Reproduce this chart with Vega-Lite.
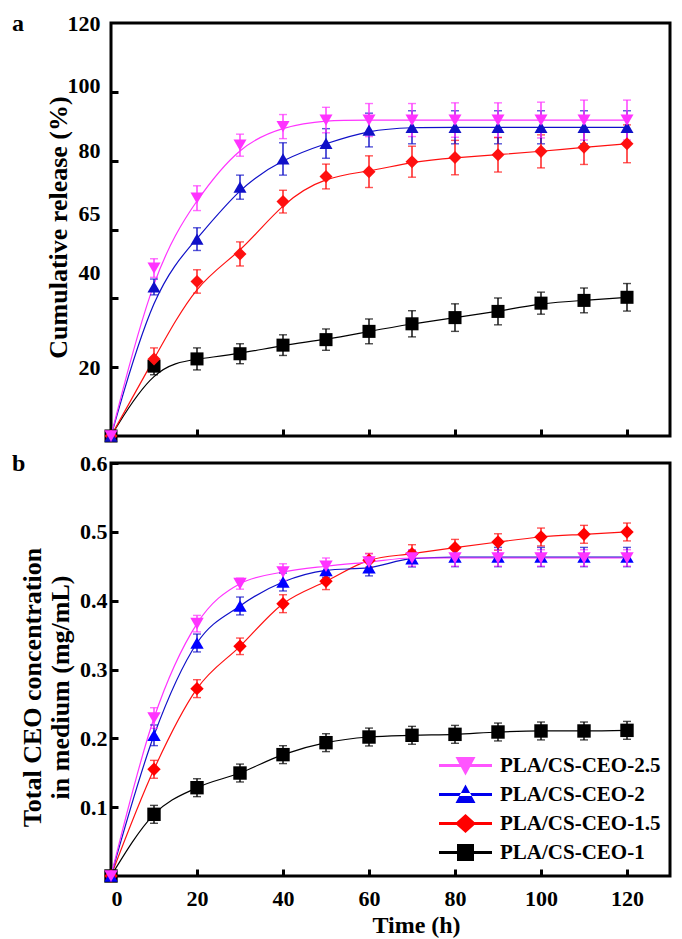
{
  "$schema": "https://vega.github.io/schema/vega-lite/v6.json",
  "background": "white",
  "padding": {"left": 10, "top": 10, "right": 5, "bottom": 1},
  "spacing": 5,
  "config": {
    "font": "Liberation Serif",
    "view": {"stroke": "black", "strokeWidth": 3},
    "axis": {
      "grid": false, "domain": false,
      "tickColor": "black", "tickWidth": 3, "tickSize": 7,
      "labelFont": "Liberation Serif", "labelFontWeight": "bold", "labelFontSize": 22, "labelColor": "black",
      "titleFont": "Liberation Serif", "titleFontWeight": "bold", "titleFontSize": 26, "titleColor": "black"
    }
  },
  "datasets": {
    "release": [
      {"s": "PLA/CS-CEO-1", "t": 0, "v": 0, "e": 0},
      {"s": "PLA/CS-CEO-1", "t": 10, "v": 20.3, "e": 2.5},
      {"s": "PLA/CS-CEO-1", "t": 20, "v": 22.4, "e": 3.2},
      {"s": "PLA/CS-CEO-1", "t": 30, "v": 23.9, "e": 2.9},
      {"s": "PLA/CS-CEO-1", "t": 40, "v": 26.4, "e": 3.0},
      {"s": "PLA/CS-CEO-1", "t": 50, "v": 28.0, "e": 3.1},
      {"s": "PLA/CS-CEO-1", "t": 60, "v": 30.4, "e": 3.6},
      {"s": "PLA/CS-CEO-1", "t": 70, "v": 32.6, "e": 3.8},
      {"s": "PLA/CS-CEO-1", "t": 80, "v": 34.4, "e": 4.0},
      {"s": "PLA/CS-CEO-1", "t": 90, "v": 36.2, "e": 3.9},
      {"s": "PLA/CS-CEO-1", "t": 100, "v": 38.6, "e": 3.2},
      {"s": "PLA/CS-CEO-1", "t": 110, "v": 39.4, "e": 3.6},
      {"s": "PLA/CS-CEO-1", "t": 120, "v": 40.3, "e": 4.0},
      {"s": "PLA/CS-CEO-1.5", "t": 0, "v": 0, "e": 0},
      {"s": "PLA/CS-CEO-1.5", "t": 10, "v": 22.4, "e": 3.2},
      {"s": "PLA/CS-CEO-1.5", "t": 20, "v": 44.9, "e": 3.4},
      {"s": "PLA/CS-CEO-1.5", "t": 30, "v": 52.9, "e": 3.5},
      {"s": "PLA/CS-CEO-1.5", "t": 40, "v": 68.1, "e": 3.3},
      {"s": "PLA/CS-CEO-1.5", "t": 50, "v": 75.4, "e": 3.6},
      {"s": "PLA/CS-CEO-1.5", "t": 60, "v": 76.8, "e": 4.6},
      {"s": "PLA/CS-CEO-1.5", "t": 70, "v": 79.7, "e": 4.5},
      {"s": "PLA/CS-CEO-1.5", "t": 80, "v": 80.9, "e": 5.0},
      {"s": "PLA/CS-CEO-1.5", "t": 90, "v": 81.7, "e": 5.0},
      {"s": "PLA/CS-CEO-1.5", "t": 100, "v": 82.7, "e": 4.8},
      {"s": "PLA/CS-CEO-1.5", "t": 110, "v": 83.9, "e": 5.0},
      {"s": "PLA/CS-CEO-1.5", "t": 120, "v": 84.9, "e": 5.5},
      {"s": "PLA/CS-CEO-2", "t": 0, "v": 0, "e": 0},
      {"s": "PLA/CS-CEO-2", "t": 10, "v": 43.3, "e": 2.3},
      {"s": "PLA/CS-CEO-2", "t": 20, "v": 57.2, "e": 3.3},
      {"s": "PLA/CS-CEO-2", "t": 30, "v": 72.3, "e": 3.5},
      {"s": "PLA/CS-CEO-2", "t": 40, "v": 80.5, "e": 4.7},
      {"s": "PLA/CS-CEO-2", "t": 50, "v": 85.0, "e": 4.3},
      {"s": "PLA/CS-CEO-2", "t": 60, "v": 88.9, "e": 4.9},
      {"s": "PLA/CS-CEO-2", "t": 70, "v": 89.7, "e": 4.8},
      {"s": "PLA/CS-CEO-2", "t": 80, "v": 89.7, "e": 4.8},
      {"s": "PLA/CS-CEO-2", "t": 90, "v": 89.7, "e": 4.8},
      {"s": "PLA/CS-CEO-2", "t": 100, "v": 89.7, "e": 4.8},
      {"s": "PLA/CS-CEO-2", "t": 110, "v": 89.7, "e": 4.8},
      {"s": "PLA/CS-CEO-2", "t": 120, "v": 89.7, "e": 4.8},
      {"s": "PLA/CS-CEO-2.5", "t": 0, "v": 0, "e": 0},
      {"s": "PLA/CS-CEO-2.5", "t": 10, "v": 48.8, "e": 2.7},
      {"s": "PLA/CS-CEO-2.5", "t": 20, "v": 69.1, "e": 3.6},
      {"s": "PLA/CS-CEO-2.5", "t": 30, "v": 84.5, "e": 3.2},
      {"s": "PLA/CS-CEO-2.5", "t": 40, "v": 89.9, "e": 3.5},
      {"s": "PLA/CS-CEO-2.5", "t": 50, "v": 91.8, "e": 3.7},
      {"s": "PLA/CS-CEO-2.5", "t": 60, "v": 91.8, "e": 4.8},
      {"s": "PLA/CS-CEO-2.5", "t": 70, "v": 91.8, "e": 4.8},
      {"s": "PLA/CS-CEO-2.5", "t": 80, "v": 91.8, "e": 5.0},
      {"s": "PLA/CS-CEO-2.5", "t": 90, "v": 91.8, "e": 5.0},
      {"s": "PLA/CS-CEO-2.5", "t": 100, "v": 91.8, "e": 5.2},
      {"s": "PLA/CS-CEO-2.5", "t": 110, "v": 91.8, "e": 5.8},
      {"s": "PLA/CS-CEO-2.5", "t": 120, "v": 91.8, "e": 5.8}
    ],
    "conc": [
      {"s": "PLA/CS-CEO-1", "t": 0, "v": 0, "e": 0},
      {"s": "PLA/CS-CEO-1", "t": 10, "v": 0.0896, "e": 0.013},
      {"s": "PLA/CS-CEO-1", "t": 20, "v": 0.1283, "e": 0.013},
      {"s": "PLA/CS-CEO-1", "t": 30, "v": 0.1496, "e": 0.013},
      {"s": "PLA/CS-CEO-1", "t": 40, "v": 0.1763, "e": 0.013},
      {"s": "PLA/CS-CEO-1", "t": 50, "v": 0.1937, "e": 0.013},
      {"s": "PLA/CS-CEO-1", "t": 60, "v": 0.2019, "e": 0.013},
      {"s": "PLA/CS-CEO-1", "t": 70, "v": 0.2044, "e": 0.013},
      {"s": "PLA/CS-CEO-1", "t": 80, "v": 0.2058, "e": 0.013},
      {"s": "PLA/CS-CEO-1", "t": 90, "v": 0.2092, "e": 0.013},
      {"s": "PLA/CS-CEO-1", "t": 100, "v": 0.2107, "e": 0.013},
      {"s": "PLA/CS-CEO-1", "t": 110, "v": 0.2107, "e": 0.013},
      {"s": "PLA/CS-CEO-1", "t": 120, "v": 0.2116, "e": 0.013},
      {"s": "PLA/CS-CEO-1.5", "t": 0, "v": 0, "e": 0},
      {"s": "PLA/CS-CEO-1.5", "t": 10, "v": 0.155, "e": 0.013},
      {"s": "PLA/CS-CEO-1.5", "t": 20, "v": 0.2722, "e": 0.013},
      {"s": "PLA/CS-CEO-1.5", "t": 30, "v": 0.3337, "e": 0.012},
      {"s": "PLA/CS-CEO-1.5", "t": 40, "v": 0.3956, "e": 0.013},
      {"s": "PLA/CS-CEO-1.5", "t": 50, "v": 0.4281, "e": 0.012},
      {"s": "PLA/CS-CEO-1.5", "t": 60, "v": 0.4586, "e": 0.01},
      {"s": "PLA/CS-CEO-1.5", "t": 70, "v": 0.4683, "e": 0.013},
      {"s": "PLA/CS-CEO-1.5", "t": 80, "v": 0.477, "e": 0.012},
      {"s": "PLA/CS-CEO-1.5", "t": 90, "v": 0.4852, "e": 0.012},
      {"s": "PLA/CS-CEO-1.5", "t": 100, "v": 0.4925, "e": 0.013},
      {"s": "PLA/CS-CEO-1.5", "t": 110, "v": 0.4964, "e": 0.013},
      {"s": "PLA/CS-CEO-1.5", "t": 120, "v": 0.4998, "e": 0.013},
      {"s": "PLA/CS-CEO-2", "t": 0, "v": 0, "e": 0},
      {"s": "PLA/CS-CEO-2", "t": 10, "v": 0.2044, "e": 0.015},
      {"s": "PLA/CS-CEO-2", "t": 20, "v": 0.3385, "e": 0.013},
      {"s": "PLA/CS-CEO-2", "t": 30, "v": 0.3923, "e": 0.013},
      {"s": "PLA/CS-CEO-2", "t": 40, "v": 0.4271, "e": 0.013},
      {"s": "PLA/CS-CEO-2", "t": 50, "v": 0.444, "e": 0.01},
      {"s": "PLA/CS-CEO-2", "t": 60, "v": 0.448, "e": 0.012},
      {"s": "PLA/CS-CEO-2", "t": 70, "v": 0.461, "e": 0.012},
      {"s": "PLA/CS-CEO-2", "t": 80, "v": 0.4634, "e": 0.014},
      {"s": "PLA/CS-CEO-2", "t": 90, "v": 0.4634, "e": 0.014},
      {"s": "PLA/CS-CEO-2", "t": 100, "v": 0.4634, "e": 0.014},
      {"s": "PLA/CS-CEO-2", "t": 110, "v": 0.4634, "e": 0.014},
      {"s": "PLA/CS-CEO-2", "t": 120, "v": 0.4634, "e": 0.014},
      {"s": "PLA/CS-CEO-2.5", "t": 0, "v": 0, "e": 0},
      {"s": "PLA/CS-CEO-2.5", "t": 10, "v": 0.2295, "e": 0.015},
      {"s": "PLA/CS-CEO-2.5", "t": 20, "v": 0.3666, "e": 0.012},
      {"s": "PLA/CS-CEO-2.5", "t": 30, "v": 0.4247, "e": 0.008},
      {"s": "PLA/CS-CEO-2.5", "t": 40, "v": 0.4416, "e": 0.012},
      {"s": "PLA/CS-CEO-2.5", "t": 50, "v": 0.450, "e": 0.012},
      {"s": "PLA/CS-CEO-2.5", "t": 60, "v": 0.456, "e": 0.012},
      {"s": "PLA/CS-CEO-2.5", "t": 70, "v": 0.462, "e": 0.012},
      {"s": "PLA/CS-CEO-2.5", "t": 80, "v": 0.462, "e": 0.012},
      {"s": "PLA/CS-CEO-2.5", "t": 90, "v": 0.462, "e": 0.012},
      {"s": "PLA/CS-CEO-2.5", "t": 100, "v": 0.462, "e": 0.012},
      {"s": "PLA/CS-CEO-2.5", "t": 110, "v": 0.462, "e": 0.012},
      {"s": "PLA/CS-CEO-2.5", "t": 120, "v": 0.462, "e": 0.012}
    ]
  },
  "vconcat": [
    {
      "width": 559, "height": 413,
      "title": {"text": "a", "anchor": "start", "frame": "group", "orient": "top", "dx": -99, "offset": -36, "baseline": "middle", "fontSize": 24, "font": "Liberation Serif", "fontWeight": "bold", "color": "black"},
      "data": {"name": "release"},
      "layer": [
        {
          "mark": {"type": "line", "interpolate": "basis", "strokeWidth": 1.2},
          "encoding": {
            "x": {"field": "t", "type": "quantitative", "scale": {"domain": [0, 130], "nice": false},
                  "axis": {"values": [20, 40, 60, 80, 100, 120], "offset": -7, "tickSize": 7, "labels": false, "title": null}},
            "y": {"field": "v", "type": "quantitative", "scale": {"domain": [0, 120], "nice": false},
                  "axis": {"orient": "left", "values": [20, 40, 60, 80, 100], "offset": -7, "tickSize": 7, "labels": false, "title": "Cumulative release (%)", "titleX": -60, "titleY": 204, "titleBaseline": "middle"}},
            "color": {"field": "s", "type": "nominal", "scale": {"domain": ["PLA/CS-CEO-2.5", "PLA/CS-CEO-2", "PLA/CS-CEO-1.5", "PLA/CS-CEO-1"], "range": ["#ff33ff", "#1010c8", "#ff1010", "#000000"]}, "legend": null}
          }
        },
        {
          "mark": {"type": "errorbar", "ticks": true, "size": 8, "thickness": 1.4},
          "encoding": {
            "x": {"field": "t", "type": "quantitative", "axis": null},
            "y": {"field": "v", "type": "quantitative", "axis": null},
            "yError": {"field": "e"},
            "color": {"field": "s", "type": "nominal", "legend": null}
          }
        },
        {
          "mark": {"type": "point", "filled": true, "opacity": 1},
          "encoding": {
            "x": {"field": "t", "type": "quantitative", "axis": null},
            "y": {"field": "v", "type": "quantitative",
                  "axis": {"orient": "left", "values": [20, 47.5, 64.6, 83, 101.8, 120], "offset": 0, "ticks": false, "labelPadding": 11, "title": null,
                           "labelExpr": "datum.value == 47.5 ? '40' : datum.value == 64.6 ? '65' : datum.value == 83 ? '80' : datum.value == 101.8 ? '100' : datum.label"}},
            "color": {"field": "s", "type": "nominal", "legend": null},
            "shape": {"field": "s", "type": "nominal", "scale": {"domain": ["PLA/CS-CEO-2.5", "PLA/CS-CEO-2", "PLA/CS-CEO-1.5", "PLA/CS-CEO-1"], "range": ["triangle-down", "triangle-up", "diamond", "square"]}, "legend": null},
            "size": {"field": "s", "type": "ordinal", "scale": {"domain": ["PLA/CS-CEO-2.5", "PLA/CS-CEO-2", "PLA/CS-CEO-1.5", "PLA/CS-CEO-1"], "range": [170, 170, 160, 105]}, "legend": null}
          }
        }
      ],
      "resolve": {"axis": {"x": "independent", "y": "independent"}}
    },
    {
      "width": 559, "height": 413,
      "title": {"text": "b", "anchor": "start", "frame": "group", "orient": "top", "dx": -99, "offset": -36, "baseline": "middle", "fontSize": 24, "font": "Liberation Serif", "fontWeight": "bold", "color": "black"},
      "data": {"name": "conc"},
      "layer": [
        {
          "mark": {"type": "line", "interpolate": "monotone", "strokeWidth": 1.2},
          "encoding": {
            "x": {"field": "t", "type": "quantitative", "scale": {"domain": [0, 130], "nice": false},
                  "axis": {"values": [0, 20, 40, 60, 80, 100, 120], "offset": -7, "tickSize": 7, "labelFlush": true, "labelPadding": 12, "title": "Time (h)", "titleFontSize": 24, "titleX": 305, "titleY": 56, "titleBaseline": "middle"}},
            "y": {"field": "v", "type": "quantitative", "scale": {"domain": [0, 0.6], "nice": false},
                  "axis": {"orient": "left", "values": [0.1, 0.2, 0.3, 0.4, 0.5, 0.6], "offset": -7, "tickSize": 7, "format": ".1f", "labelPadding": 4,
                           "title": ["Total CEO concentration", "in medium (mg/mL)"], "titleLineHeight": 28, "titleX": -86, "titleY": 224, "titleBaseline": "middle"}},
            "color": {"field": "s", "type": "nominal", "scale": {"domain": ["PLA/CS-CEO-2.5", "PLA/CS-CEO-2", "PLA/CS-CEO-1.5", "PLA/CS-CEO-1"], "range": ["#ff33ff", "#1010c8", "#ff1010", "#000000"]}, "legend": null}
          }
        },
        {
          "mark": {"type": "errorbar", "ticks": true, "size": 8, "thickness": 1.4},
          "encoding": {
            "x": {"field": "t", "type": "quantitative", "axis": null},
            "y": {"field": "v", "type": "quantitative", "axis": null},
            "yError": {"field": "e"},
            "color": {"field": "s", "type": "nominal", "scale": {"domain": ["PLA/CS-CEO-2.5", "PLA/CS-CEO-2", "PLA/CS-CEO-1.5", "PLA/CS-CEO-1"], "range": ["#ff33ff", "#1010c8", "#ff1010", "#000000"]}, "legend": null}
          }
        },
        {
          "mark": {"type": "point", "filled": true, "opacity": 1},
          "encoding": {
            "x": {"field": "t", "type": "quantitative", "axis": null},
            "y": {"field": "v", "type": "quantitative", "axis": null},
            "color": {"field": "s", "type": "nominal", "scale": {"domain": ["PLA/CS-CEO-2.5", "PLA/CS-CEO-2", "PLA/CS-CEO-1.5", "PLA/CS-CEO-1"], "range": ["#ff33ff", "#0000ff", "#ff0000", "#000000"]}, "legend": null},
            "shape": {"field": "s", "type": "nominal", "scale": {"domain": ["PLA/CS-CEO-2.5", "PLA/CS-CEO-2", "PLA/CS-CEO-1.5", "PLA/CS-CEO-1"], "range": ["triangle-down", "triangle-up", "diamond", "square"]}, "legend": null},
            "size": {"field": "s", "type": "ordinal", "scale": {"domain": ["PLA/CS-CEO-2.5", "PLA/CS-CEO-2", "PLA/CS-CEO-1.5", "PLA/CS-CEO-1"], "range": [180, 180, 170, 120]}, "legend": null}
          }
        },
        {
          "transform": [{"filter": {"field": "t", "lt": 0}}],
          "mark": {"type": "point", "filled": true, "opacity": 1, "size": 400},
          "encoding": {
            "x": {"field": "t", "type": "quantitative", "axis": null},
            "y": {"field": "v", "type": "quantitative", "axis": null},
            "color": {"field": "s", "type": "nominal",
                      "scale": {"domain": ["PLA/CS-CEO-2.5", "PLA/CS-CEO-2", "PLA/CS-CEO-1.5", "PLA/CS-CEO-1"], "range": ["#ff55ff", "#0000ee", "#ff0000", "#000000"]},
                      "legend": {"orient": "none", "legendX": 344, "legendY": 292, "title": null, "padding": 0, "symbolSize": 400, "symbolStrokeWidth": 0, "symbolOpacity": 1, "labelOffset": 24, "rowPadding": 7, "labelFont": "Liberation Serif", "labelFontSize": 21, "labelFontWeight": "bold", "labelColor": "black", "labelLimit": 400}},
            "shape": {"field": "s", "type": "nominal",
                      "scale": {"domain": ["PLA/CS-CEO-2.5", "PLA/CS-CEO-2", "PLA/CS-CEO-1.5", "PLA/CS-CEO-1"],
                                "range": ["M-2.65,-0.15H2.65V0.15H-2.65Z M-1,-0.85H1L0,1Z", "M-2.65,-0.15H2.65V0.15H-2.65Z M-1,0.85H1L0,-1Z", "M-2.65,-0.15H2.65V0.15H-2.65Z M-1.05,0L0,-0.95L1.05,0L0,0.95Z", "M-2.65,-0.15H2.65V0.15H-2.65Z M-0.85,-0.85H0.85V0.85H-0.85Z"]},
                      "legend": {"orient": "none", "legendX": 344, "legendY": 292, "title": null, "padding": 0, "symbolSize": 400, "symbolStrokeWidth": 0, "symbolOpacity": 1, "labelOffset": 24, "rowPadding": 7, "labelFont": "Liberation Serif", "labelFontSize": 21, "labelFontWeight": "bold", "labelColor": "black", "labelLimit": 400}}
          }
        }
      ],
      "resolve": {"scale": {"color": "independent", "shape": "independent", "size": "independent"}, "axis": {"x": "independent", "y": "independent"}}
    }
  ]
}
